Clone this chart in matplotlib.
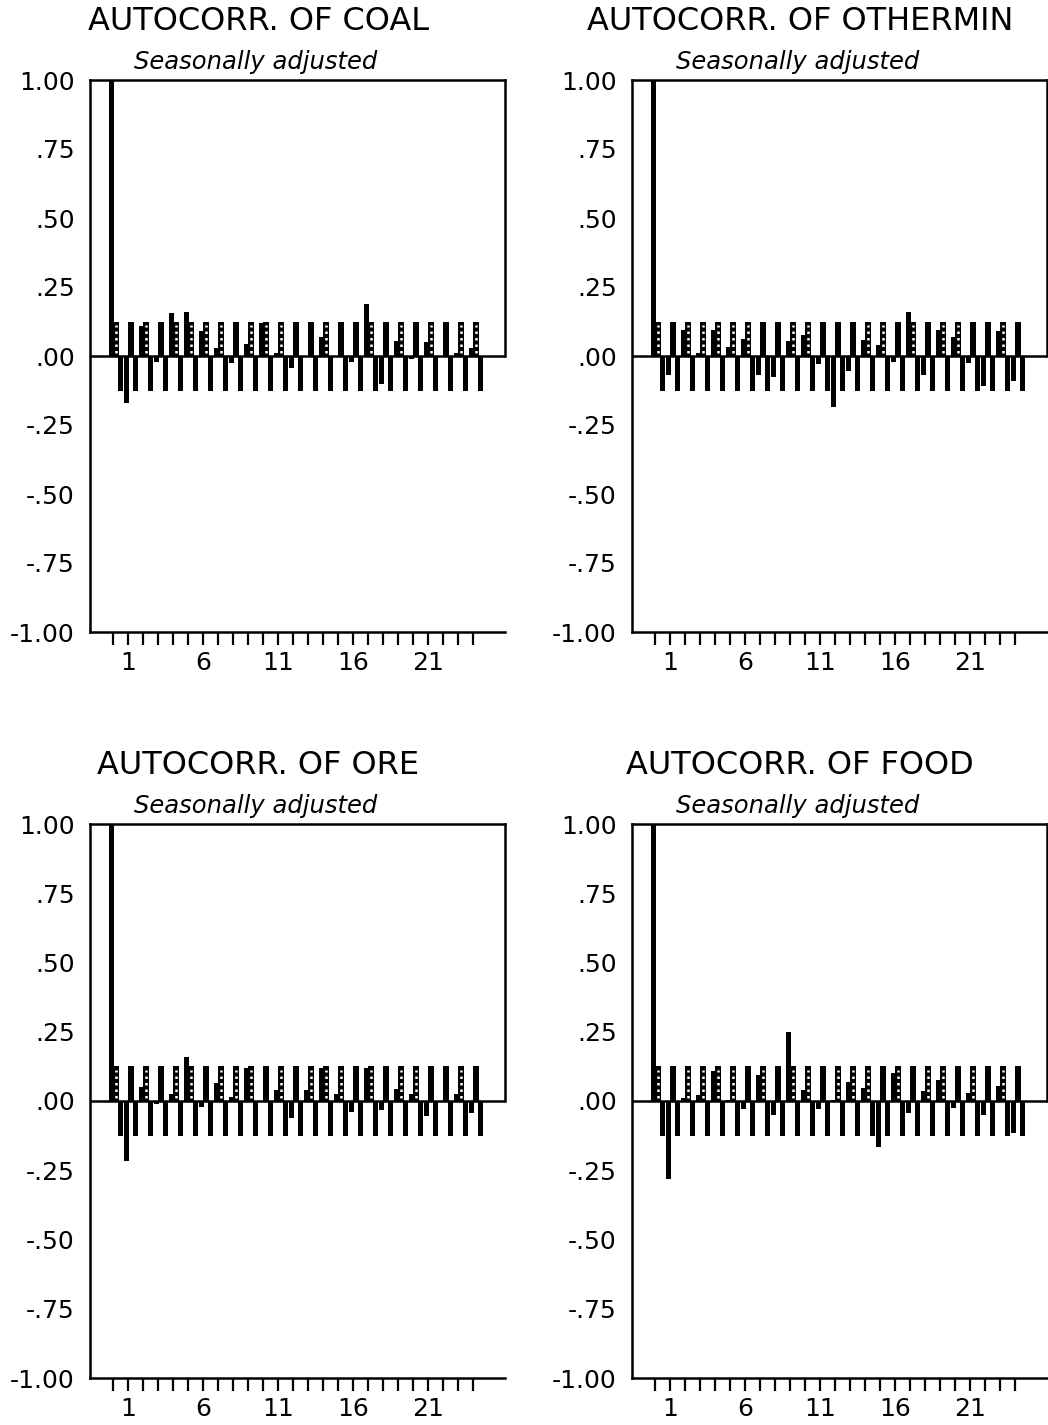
import matplotlib
matplotlib.use("Agg")
import matplotlib.pyplot as plt
import numpy as np

plt.rcParams['font.family'] = ['DejaVu Sans']

# Autocorrelations by lag (0..24) for each series, seasonally adjusted
lags = list(range(25))
coal = [1.00, -0.17, 0.11, -0.02, 0.155, 0.16, 0.09, 0.03, -0.025, 0.043,
        0.12, 0.01, -0.045, 0.0, 0.07, 0.0, -0.02, 0.19, -0.10, 0.055,
        -0.01, 0.05, 0.0, 0.01, 0.03]
othermin = [1.00, -0.07, 0.095, 0.01, 0.095, 0.033, 0.06, -0.068, -0.075, 0.055,
            0.077, -0.03, -0.185, -0.055, 0.057, 0.04, -0.02, 0.16, -0.068, 0.093,
            0.07, -0.027, -0.107, 0.09, -0.09]
ore = [1.00, -0.215, 0.052, -0.01, 0.024, 0.16, -0.02, 0.065, 0.015, 0.12,
       0.0, 0.04, -0.06, 0.04, 0.12, 0.024, -0.04, 0.12, -0.033, 0.045,
       0.024, -0.053, 0.0, 0.024, -0.043]
food = [1.00, -0.28, 0.01, 0.02, 0.11, 0.005, -0.028, 0.093, -0.052, 0.25,
        0.04, -0.028, 0.005, 0.068, 0.048, -0.165, 0.10, -0.043, 0.036, 0.076,
        -0.025, 0.03, -0.05, 0.055, -0.115]

# Two-standard-error band
band = 0.125

series_names = ["COAL", "OTHERMIN", "ORE", "FOOD"]
series_values = [coal, othermin, ore, food]
subtitle = "Seasonally adjusted"

yticks = [1.0, 0.75, 0.5, 0.25, 0.0, -0.25, -0.5, -0.75, -1.0]
ytick_labels = ["1.00", ".75", ".50", ".25", ".00", "-.25", "-.50", "-.75", "-1.00"]
xtick_labels = {1: "1", 6: "6", 11: "11", 16: "16", 21: "21"}

W, H = 1048, 1425
fig = plt.figure(figsize=(W / 100, H / 100), dpi=100)

# axes boxes in pixels: (left, top, right, bottom)
boxes = [(90, 80, 505, 632), (632, 80, 1047, 632),
         (90, 824, 505, 1378), (632, 824, 1047, 1378)]

bw = 0.36
off = 0.29

for name, vals, (l, t, r, b) in zip(series_names, series_values, boxes):
    ax = fig.add_axes([l / W, 1 - b / H, (r - l) / W, (b - t) / H])
    x = np.array(lags, dtype=float)
    v = np.array(vals)

    ax.bar(x - off, v, width=bw, color="black", linewidth=0)
    ax.bar(x, np.full_like(x, band), width=bw, color="black", linewidth=0)
    ax.bar(x + off, np.full_like(x, -band), width=bw, color="black", linewidth=0)
    pos = x[v > 0.004]
    ax.vlines(pos, 0.012, band - 0.012, colors="white",
              linestyles=(0, (1, 1.6)), linewidth=1.8)

    ax.axhline(0, color="black", linewidth=1.8)

    ax.set_xlim(-1.73, 25.93)
    ax.set_ylim(-1.0, 1.0)

    for s in ax.spines.values():
        s.set_linewidth(1.8)
        s.set_color("black")
    ax.spines["right"].set_bounds(0, 1)

    ax.set_yticks(yticks)
    ax.set_yticklabels(ytick_labels)
    ax.tick_params(axis="y", length=0, pad=11, labelsize=18)

    ax.set_xticks(x - 0.2)
    ax.set_xticklabels([xtick_labels.get(k, "") for k in lags])
    ax.tick_params(axis="x", direction="out", length=9, width=1.6, pad=5,
                   labelsize=18)

    ax.annotate("AUTOCORR. OF " + name, xy=(0.405, 1.0), xycoords="axes fraction",
                xytext=(0, 58 * 0.72), textcoords="offset points",
                ha="center", va="center", fontsize=23)
    ax.annotate(subtitle, xy=(0.40, 1.0), xycoords="axes fraction",
                xytext=(0, 18 * 0.72), textcoords="offset points",
                ha="center", va="center", fontsize=17.5, style="italic")

fig.savefig("out.png", dpi=100)
